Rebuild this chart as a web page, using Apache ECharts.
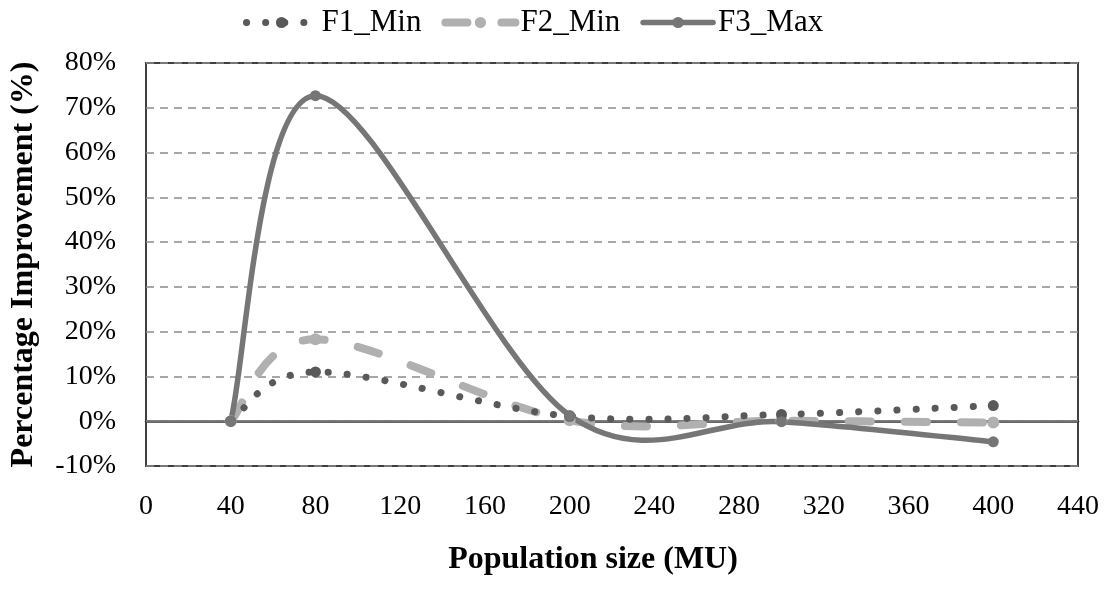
<!DOCTYPE html>
<html>
<head>
<meta charset="utf-8">
<script src="https://cdn.jsdelivr.net/npm/echarts@6/dist/echarts.min.js"></script>
<style>
html,body{margin:0;padding:0;background:#fff;}
#chart{width:1112px;height:589px;}
</style>
</head>
<body>
<div id="chart"></div>
<script>
const populationSizes = [40, 80, 200, 300, 400];
const f1Min = [0, 11, 1.1, 1.5, 3.5];
const f2Min = [0, 18.3, 0.2, 0.1, -0.3];
const f3Max = [0, 72.7, 1.3, -0.1, -4.6];
const seriesNames = ['F1_Min', 'F2_Min', 'F3_Max'];
const xTicks = {min: 0, max: 440, interval: 40};
const yTicks = {min: -10, max: 80, interval: 10};

const pair = (ys) => populationSizes.map((x, i) => [x, ys[i]]);
const serif = 'Liberation Serif';

const styles = {
  F1_Min: {color: '#595959', width: 7, dash: [0.1, 19], cap: 'round', marker: 11},
  F2_Min: {color: '#b0b0b0', width: 8, dash: [22, 34], cap: 'round', marker: 12},
  F3_Max: {color: '#767676', width: 5.5, dash: null, cap: 'round', marker: 11}
};

// Excel-like smoothed line (Catmull-Rom style bezier through the data points, in pixel space)
function curveRenderer(ys, st) {
  return function (params, api) {
    if (params.dataIndex !== 0) return null;
    const pts = populationSizes.map((x, i) => api.coord([x, ys[i]]));
    const n = pts.length;
    let d = 'M' + pts[0][0] + ',' + pts[0][1];
    for (let i = 0; i < n - 1; i++) {
      const p0 = pts[Math.max(i - 1, 0)], p1 = pts[i], p2 = pts[i + 1], p3 = pts[Math.min(i + 2, n - 1)];
      const c1 = [p1[0] + (p2[0] - p0[0]) / 6, p1[1] + (p2[1] - p0[1]) / 6];
      const c2 = [p2[0] - (p3[0] - p1[0]) / 6, p2[1] - (p3[1] - p1[1]) / 6];
      d += ' C' + c1[0] + ',' + c1[1] + ',' + c2[0] + ',' + c2[1] + ',' + p2[0] + ',' + p2[1];
    }
    const style = {fill: null, stroke: st.color, lineWidth: st.width, lineCap: st.cap, lineJoin: 'round'};
    if (st.dash) style.lineDash = st.dash;
    return {type: 'path', shape: {pathData: d}, style: style, silent: true};
  };
}

const valuesByName = {F1_Min: f1Min, F2_Min: f2Min, F3_Max: f3Max};
const zByName = {F1_Min: 3, F2_Min: 2, F3_Max: 4};

const series = [];
seriesNames.forEach((name) => {
  const st = styles[name];
  series.push({
    name: name + ' curve', type: 'custom',
    data: pair(valuesByName[name]),
    encode: {x: 0, y: 1},
    renderItem: curveRenderer(valuesByName[name], st),
    z: zByName[name]
  });
});
seriesNames.forEach((name) => {
  const st = styles[name];
  series.push({
    name: name, type: 'line',
    data: pair(valuesByName[name]),
    symbol: 'circle', symbolSize: st.marker,
    itemStyle: {color: st.color},
    lineStyle: {color: st.color, width: st.width, opacity: 0},
    z: zByName[name] + 5
  });
});
series[3].markLine = {
  silent: true, symbol: 'none', label: {show: false},
  lineStyle: {color: '#8a8a8a', width: 1.5, type: 'solid', opacity: 1},
  data: [{yAxis: 0}],
  z: 1
};

const chart = echarts.init(document.getElementById('chart'), null, {renderer: 'canvas'});
chart.setOption({
  animation: false,
  backgroundColor: '#fff',
  textStyle: {fontFamily: serif, color: '#000'},
  legend: {
    top: 2,
    left: 238,
    itemWidth: 70,
    itemHeight: 14,
    itemGap: 20,
    textStyle: {fontFamily: serif, fontSize: 31, color: '#000'},
    data: seriesNames.map((name) => {
      const st = styles[name];
      return {
        name: name,
        lineStyle: {color: st.color, width: st.width, type: st.dash || 'solid', cap: st.cap, opacity: 1},
        itemStyle: {color: st.color}
      };
    })
  },
  grid: {
    left: 145, right: 34, top: 63, bottom: 123,
    show: true, borderColor: '#404040', borderWidth: 2, backgroundColor: '#fff'
  },
  xAxis: {
    type: 'value',
    min: xTicks.min, max: xTicks.max, interval: xTicks.interval,
    name: 'Population size (MU)',
    nameLocation: 'middle',
    nameGap: 78,
    nameTextStyle: {fontFamily: serif, fontWeight: 'bold', fontSize: 32, color: '#000', padding: [0, 38, 0, 0]},
    axisLine: {show: true, lineStyle: {color: '#333', width: 2.5}},
    axisTick: {show: false},
    splitLine: {show: false},
    axisLabel: {fontFamily: serif, fontSize: 28, color: '#000', margin: 27}
  },
  yAxis: {
    type: 'value',
    min: yTicks.min, max: yTicks.max, interval: yTicks.interval,
    name: 'Percentage Improvement (%)',
    nameLocation: 'middle',
    nameGap: 106,
    nameTextStyle: {fontFamily: serif, fontWeight: 'bold', fontSize: 32, color: '#000'},
    axisLine: {show: false},
    axisTick: {show: false},
    axisLabel: {fontFamily: serif, fontSize: 28, color: '#000', margin: 30, formatter: '{value}%'},
    splitLine: {show: true, lineStyle: {color: '#8a8a8a', width: 1.5, type: [8, 6]}}
  },
  series: series
});
</script>
</body>
</html>
